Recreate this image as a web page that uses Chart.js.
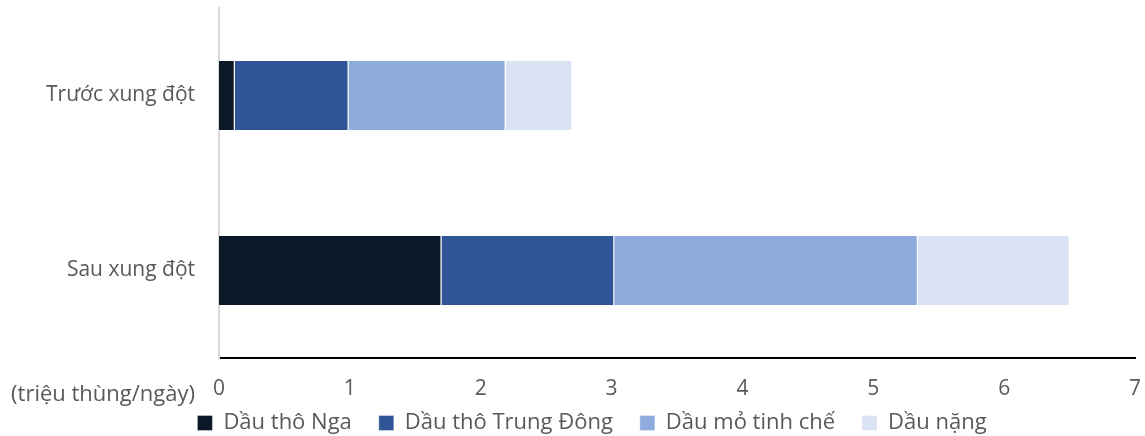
<!DOCTYPE html>
<html>
<head>
<meta charset="utf-8">
<script src="https://cdn.jsdelivr.net/npm/chart.js@4"></script>
<style>
  html, body { margin: 0; padding: 0; background: #fff; }
  #wrap { width: 1145px; height: 436px; }
</style>
</head>
<body>
<div id="wrap"><canvas id="chart"></canvas></div>
<script>
// nhãn danh mục và số liệu (triệu thùng/ngày)
const categories = ['Trước xung đột', 'Sau xung đột'];
const seriesNames = ['Dầu thô Nga', 'Dầu thô Trung Đông', 'Dầu mỏ tinh chế', 'Dầu nặng'];
const russiaCrude = [0.12, 1.70];
const middleEastCrude = [0.87, 1.32];
const refinedProducts = [1.20, 2.32];
const heavyOil = [0.51, 1.16];
const seriesColors = ['#0a1828', '#2f5597', '#8faadc', '#dae3f3'];
const unitLabel = '(triệu thùng/ngày)';

const FONT = '"Open Sans", "Noto Sans", sans-serif';
const TEXT = '#595959';
const LEGEND_H = 33;   // chỗ dành cho chú giải trong bố cục
const LEGEND_TOP = 385; // chú giải vẽ đè lên phần dưới của trục x

const layoutPlugin = {
  id: 'layoutTweaks',
  afterInit(chart) {
    const lg = chart.legend;
    const fit = lg.fit.bind(lg);
    lg.fit = function () { fit(); this.height = LEGEND_H; };
  },
  beforeDraw(chart) {
    // kéo chú giải lên trên và lệch phải một chút, giữ vùng cắt tới đáy canvas
    const lg = chart.legend;
    lg.top = LEGEND_TOP;
    lg.bottom = chart.height;
    lg.left = 49;
    lg.right = chart.width - 10;
  },
  afterDraw(chart) {
    // chữ đơn vị bên trái hàng nhãn trục x
    const ctx = chart.ctx;
    const x = chart.scales.x;
    ctx.save();
    ctx.font = '22px ' + FONT;
    ctx.fillStyle = TEXT;
    ctx.textAlign = 'right';
    ctx.textBaseline = 'middle';
    ctx.fillText(unitLabel, 195, x.top + 37);
    ctx.restore();
  }
};

const values = [russiaCrude, middleEastCrude, refinedProducts, heavyOil];

new Chart(document.getElementById('chart'), {
  type: 'bar',
  data: {
    labels: categories,
    datasets: seriesNames.map((name, i) => ({
      label: name,
      data: values[i],
      backgroundColor: seriesColors[i],
      borderColor: 'rgba(255,255,255,0.35)',
      borderWidth: 1,
      barPercentage: 0.81,
      categoryPercentage: 0.5
    }))
  },
  options: {
    indexAxis: 'y',
    responsive: true,
    maintainAspectRatio: false,
    animation: false,
    layout: { padding: { top: 8, left: 10, right: 10, bottom: 0 } },
    plugins: {
      legend: {
        position: 'bottom',
        labels: {
          font: { family: FONT, size: 22 },
          color: TEXT,
          boxWidth: 15,
          boxHeight: 15,
          padding: 27
        }
      },
      tooltip: { enabled: false }
    },
    scales: {
      x: {
        stacked: true,
        min: 0, max: 7,
        ticks: { stepSize: 1, font: { family: FONT, size: 21 }, color: TEXT, padding: 18 },
        grid: { display: false, drawTicks: false },
        border: { color: '#000', width: 2 },
        afterFit(scale) {
          scale.height = 45;
          scale.paddingRight = 0;
        }
      },
      y: {
        stacked: true,
        ticks: { font: { family: FONT, size: 21 }, color: TEXT, padding: 24 },
        grid: { display: false, drawTicks: false },
        border: { color: '#d9d9d9', width: 2 },
        afterFit(scale) {
          scale.width = 209;
          scale.paddingTop = 0;
          scale.paddingBottom = 0;
        }
      }
    }
  },
  plugins: [layoutPlugin]
});
</script>
</body>
</html>
